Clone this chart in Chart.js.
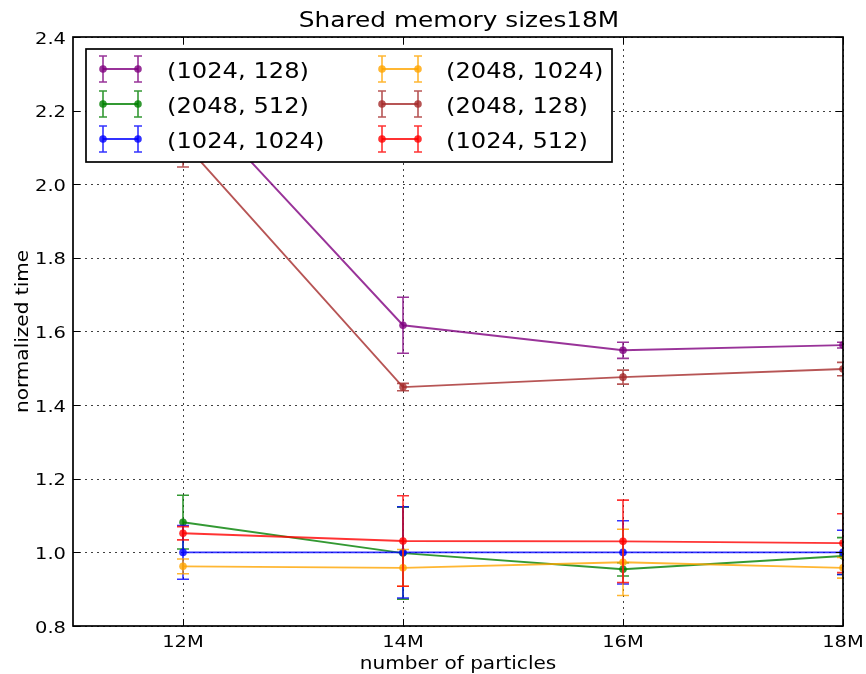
<!DOCTYPE html>
<html>
<head>
<meta charset="utf-8">
<title>Shared memory sizes18M</title>
<script src="https://cdn.jsdelivr.net/npm/chart.js@4/dist/chart.umd.min.js"></script>
<style>
  html, body { margin: 0; padding: 0; background: #ffffff; }
  #wrap { width: 866px; height: 674px; }
</style>
</head>
<body>
<div id="wrap"><canvas id="chart" width="866" height="674"></canvas></div>
<script>
// Number of particles (millions) and their tick labels
const particles   = [12, 14, 16, 18];
const xTickLabels = ['12M', '14M', '16M', '18M'];
const yTickValues = [0.8, 1.0, 1.2, 1.4, 1.6, 1.8, 2.0, 2.2, 2.4];

// Configurations (block size, shared memory) shown in the legend
const seriesLabels = ['(1024, 128)', '(2048, 512)', '(1024, 1024)', '(2048, 1024)', '(2048, 128)', '(1024, 512)'];
const seriesColors = [
  'rgba(128, 0, 128, 0.8)',   // purple
  'rgba(0, 128, 0, 0.8)',     // green
  'rgba(0, 0, 255, 0.8)',     // blue
  'rgba(255, 165, 0, 0.8)',   // orange
  'rgba(165, 42, 42, 0.8)',   // brown
  'rgba(255, 0, 0, 0.8)'      // red
];

// Normalized time and its error (half-width of the bar) per configuration
const time_1024_128  = [2.26, 1.617, 1.549, 1.563];
const err_1024_128   = [0.07, 0.076, 0.022, 0.008];
const time_2048_512  = [1.082, 0.998, 0.954, 0.990];
const err_2048_512   = [0.073, 0.125, 0.018, 0.050];
const time_1024_1024 = [1.000, 1.000, 1.000, 1.000];
const err_1024_1024  = [0.073, 0.124, 0.086, 0.060];
const time_2048_1024 = [0.962, 0.958, 0.973, 0.958];
const err_2048_1024  = [0.020, 0.050, 0.090, 0.028];
const time_2048_128  = [2.115, 1.449, 1.476, 1.498];
const err_2048_128   = [0.068, 0.010, 0.019, 0.018];
const time_1024_512  = [1.052, 1.031, 1.030, 1.025];
const err_1024_512   = [0.018, 0.123, 0.112, 0.080];

const seriesTimes  = [time_1024_128, time_2048_512, time_1024_1024, time_2048_1024, time_2048_128, time_1024_512];
const seriesErrors = [err_1024_128, err_2048_512, err_1024_1024, err_2048_1024, err_2048_128, err_1024_512];

const FONT = '"DejaVu Sans", "Liberation Sans", sans-serif';
const SX = 1.18;  // horizontal widening of the label glyphs

function drawText(ctx, str, x, y, size, align, baseline, rot) {
  ctx.save();
  ctx.translate(x, y);
  if (rot) ctx.rotate(rot);
  ctx.scale(SX, 1);
  ctx.font = size + 'px ' + FONT;
  ctx.textAlign = align;
  ctx.textBaseline = baseline;
  ctx.fillStyle = '#000000';
  ctx.fillText(str, 0, 0);
  ctx.restore();
}

function errorBar(ctx, x, yLo, yHi, cap) {
  ctx.moveTo(x, yLo); ctx.lineTo(x, yHi);
  ctx.moveTo(x - cap, yLo); ctx.lineTo(x + cap, yLo);
  ctx.moveTo(x - cap, yHi); ctx.lineTo(x + cap, yHi);
}

const datasets = seriesLabels.map((label, i) => ({
  label: label,
  data: particles.map((p, k) => ({ x: p, y: seriesTimes[i][k] })),
  errors: seriesErrors[i],
  borderColor: seriesColors[i],
  backgroundColor: seriesColors[i],
  borderWidth: 1.9,
  pointRadius: 3.8,
  pointBorderWidth: 0,
  pointBackgroundColor: seriesColors[i],
  pointHoverRadius: 3.8,
  tension: 0,
  order: seriesLabels.length - 1 - i
}));

const matplotlibStyle = {
  id: 'matplotlibStyle',
  beforeDatasetsDraw(chart) {
    const { ctx, chartArea: a, scales: { x, y } } = chart;
    ctx.save();
    ctx.strokeStyle = 'rgba(0,0,0,0.75)';
    ctx.lineWidth = 1;
    ctx.setLineDash([2, 4]);
    ctx.beginPath();
    x.ticks.forEach(t => {
      const px = Math.round(x.getPixelForValue(t.value)) + 0.5;
      ctx.moveTo(px, a.top); ctx.lineTo(px, a.bottom);
    });
    y.ticks.forEach(t => {
      const py = Math.round(y.getPixelForValue(t.value)) + 0.5;
      ctx.moveTo(a.left, py); ctx.lineTo(a.right, py);
    });
    ctx.stroke();
    ctx.restore();
  },
  afterDatasetDraw(chart, args) {
    const ds = chart.data.datasets[args.index];
    const { ctx, chartArea: a, scales: { x, y } } = chart;
    ctx.save();
    ctx.beginPath();
    ctx.rect(a.left, a.top, a.right - a.left, a.bottom - a.top);
    ctx.clip();
    ctx.strokeStyle = ds.borderColor;
    ctx.lineWidth = 1.6;
    ctx.beginPath();
    ds.data.forEach((p, k) => {
      const e = ds.errors[k];
      errorBar(ctx, x.getPixelForValue(p.x), y.getPixelForValue(p.y - e), y.getPixelForValue(p.y + e), 6);
    });
    ctx.stroke();
    ctx.restore();
  },
  afterDatasetsDraw(chart) {
    const { ctx, chartArea: a, scales: { x, y } } = chart;
    ctx.save();
    ctx.strokeStyle = '#000000';
    ctx.lineWidth = 1;
    ctx.beginPath();
    const tl = 7;
    x.ticks.forEach(t => {
      const px = Math.round(x.getPixelForValue(t.value)) + 0.5;
      ctx.moveTo(px, a.bottom); ctx.lineTo(px, a.bottom - tl);
      ctx.moveTo(px, a.top); ctx.lineTo(px, a.top + tl);
    });
    y.ticks.forEach(t => {
      const py = Math.round(y.getPixelForValue(t.value)) + 0.5;
      ctx.moveTo(a.left, py); ctx.lineTo(a.left + tl, py);
      ctx.moveTo(a.right, py); ctx.lineTo(a.right - tl, py);
    });
    ctx.stroke();
    ctx.lineWidth = 1.7;
    ctx.strokeRect(a.left, a.top, a.right - a.left, a.bottom - a.top);
    ctx.restore();
  },
  afterDraw(chart) {
    const { ctx, chartArea: a, scales: { x, y } } = chart;
    // tick labels
    x.ticks.forEach((t, k) => {
      drawText(ctx, xTickLabels[k], x.getPixelForValue(t.value), 647, 16.5, 'center', 'alphabetic');
    });
    y.ticks.forEach(t => {
      drawText(ctx, t.value.toFixed(1), 66, y.getPixelForValue(t.value) + 6.5, 16.5, 'right', 'alphabetic');
    });
    // titles
    const cx = (a.left + a.right) / 2;
    drawText(ctx, 'Shared memory sizes18M', cx + 1, 27, 21, 'center', 'alphabetic');
    drawText(ctx, 'number of particles', cx, 669, 17, 'center', 'alphabetic');
    drawText(ctx, 'normalized time', 28, (a.top + a.bottom) / 2, 17, 'center', 'alphabetic', -Math.PI / 2);

    // legend, two columns filled top to bottom
    ctx.save();
    ctx.fillStyle = '#ffffff';
    ctx.fillRect(86, 49, 526, 113);
    ctx.strokeStyle = '#000000';
    ctx.lineWidth = 1.7;
    ctx.strokeRect(86, 49, 526, 113);
    ctx.restore();
    const cols = [{ x1: 103, x2: 138, tx: 167 }, { x1: 382, x2: 418, tx: 446 }];
    const rowY = [69, 104, 139];
    chart.data.datasets.forEach((ds, i) => {
      const c = cols[Math.floor(i / 3)];
      const ry = rowY[i % 3];
      ctx.save();
      ctx.strokeStyle = ds.borderColor;
      ctx.fillStyle = ds.borderColor;
      ctx.lineWidth = 1.9;
      ctx.beginPath();
      ctx.moveTo(c.x1, ry); ctx.lineTo(c.x2, ry);
      ctx.stroke();
      ctx.lineWidth = 1.6;
      ctx.beginPath();
      errorBar(ctx, c.x1, ry + 13, ry - 13, 4);
      errorBar(ctx, c.x2, ry + 13, ry - 13, 4);
      ctx.stroke();
      [c.x1, c.x2].forEach(px => {
        ctx.beginPath();
        ctx.arc(px, ry, 3.8, 0, Math.PI * 2);
        ctx.fill();
      });
      ctx.restore();
      drawText(ctx, ds.label, c.tx, ry + 9, 20.5, 'left', 'alphabetic');
    });
  }
};

new Chart(document.getElementById('chart'), {
  type: 'line',
  data: { datasets: datasets },
  options: {
    responsive: false,
    animation: false,
    devicePixelRatio: 1,
    layout: { padding: { top: 37, right: 23, left: 0, bottom: 0 } },
    plugins: {
      legend: { display: false },
      title: { display: false },
      tooltip: { enabled: false }
    },
    scales: {
      x: {
        type: 'linear',
        min: 11,
        max: 18,
        afterBuildTicks: s => { s.ticks = particles.map(v => ({ value: v })); },
        afterFit: s => { s.height = 48; },
        ticks: { display: false },
        grid: { display: false },
        border: { display: false }
      },
      y: {
        type: 'linear',
        min: 0.8,
        max: 2.4,
        afterBuildTicks: s => { s.ticks = yTickValues.map(v => ({ value: v })); },
        afterFit: s => { s.width = 73; },
        ticks: { display: false },
        grid: { display: false },
        border: { display: false }
      }
    }
  },
  plugins: [matplotlibStyle]
});
</script>
</body>
</html>
